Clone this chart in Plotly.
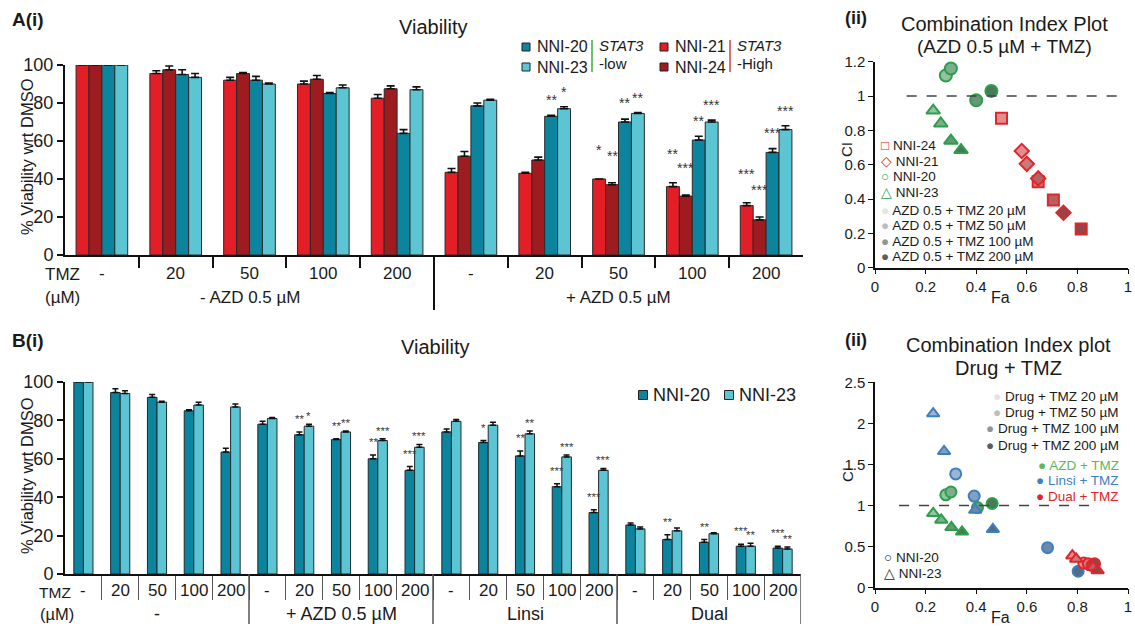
import plotly.graph_objects as go

W, H = 1135, 632
FONT = "Liberation Sans, Arial, sans-serif"
TXT = "#1a1a1a"

# ---------------- data: A(i) viability ----------------
A_tmz = ["-", "20", "50", "100", "200", "-", "20", "50", "100", "200"]
A_azd = ["- AZD 0.5 µM", "+ AZD 0.5 µM"]
A_nni21 = [100, 95.5, 92, 90, 82.5, 43.5, 43, 40, 36, 26]
A_nni24 = [100, 97.5, 95.5, 92.5, 87.5, 52, 50, 37, 31, 18.5]
A_nni20 = [100, 95, 92, 85, 64, 78.5, 73, 70, 60.5, 54]
A_nni23 = [100, 93.5, 90, 88, 87, 81.5, 77, 74.5, 70, 66]
A_err21 = [0, 1.5, 1.5, 1.5, 2, 2, 0.5, 0, 2, 1.5]
A_err24 = [0, 2, 0.5, 2, 1.5, 2.5, 1.5, 1, 0.5, 1.5]
A_err20 = [0, 2.5, 2, 0.5, 2, 1.5, 0.5, 1.5, 2, 2]
A_err23 = [0, 2, 0.5, 1.5, 1.5, 0.5, 1, 0.5, 1, 2]
A_sig21 = ["", "", "", "", "", "", "", "*", "**", "***"]
A_sig24 = ["", "", "", "", "", "", "", "**", "***", "***"]
A_sig20 = ["", "", "", "", "", "", "**", "**", "**", "***"]
A_sig23 = ["", "", "", "", "", "", "*", "**", "***", "***"]

# ---------------- data: B(i) viability ----------------
B_tmz = ["-", "20", "50", "100", "200", "-", "20", "50", "100", "200",
         "-", "20", "50", "100", "200", "-", "20", "50", "100", "200"]
B_drug = ["-", "+ AZD 0.5 µM", "Linsi", "Dual"]
B_nni20 = [100, 94.5, 92, 85, 63.5, 78, 72.5, 70, 60, 54,
           74, 68.5, 61.5, 45.5, 32, 25.5, 18, 16.5, 14.5, 13.5]
B_nni23 = [100, 94, 89.5, 88, 87, 81, 77, 74, 69.5, 66,
           79.5, 77.5, 73, 61, 54, 23.5, 22.5, 21, 14.5, 13]
B_err20 = [0, 2, 1.5, 0.5, 2, 1.5, 1.5, 0.5, 2, 2,
           1.5, 1, 2.5, 1.5, 1.5, 1, 2.5, 1.5, 1, 1]
B_err23 = [0, 1.5, 0.5, 1.5, 1.5, 0.5, 1, 0.5, 1, 1.5,
           1, 1.5, 1.5, 1, 1, 1, 1.5, 0.5, 1.5, 1]
B_sig20 = ["", "", "", "", "", "", "**", "**", "**", "***",
           "", "*", "**", "***", "***", "", "**", "**", "***", "***"]
B_sig23 = ["", "", "", "", "", "", "*", "**", "***", "***",
           "", "", "**", "***", "***", "", "", "", "**", "**"]

# ---------------- data: A(ii) CI plot ----------------
CA_fa20 = [0.28, 0.30, 0.40, 0.46]
CA_ci20 = [1.12, 1.16, 0.975, 1.03]
CA_fa23 = [0.23, 0.26, 0.30, 0.34]
CA_ci23 = [0.915, 0.84, 0.74, 0.685]
CA_fa24 = [0.50, 0.645, 0.705, 0.815]
CA_ci24 = [0.87, 0.50, 0.395, 0.225]
CA_fa21 = [0.58, 0.60, 0.645, 0.745]
CA_ci21 = [0.68, 0.605, 0.52, 0.32]

# ---------------- data: B(ii) CI plot ----------------
CB_azd_fa20 = [0.28, 0.30, 0.405, 0.463]
CB_azd_ci20 = [1.13, 1.165, 0.975, 1.025]
CB_azd_fa23 = [0.23, 0.262, 0.302, 0.344]
CB_azd_ci23 = [0.905, 0.825, 0.735, 0.68]
CB_lin_fa20 = [0.319, 0.392, 0.682, 0.803]
CB_lin_ci20 = [1.385, 1.115, 0.487, 0.2]
CB_lin_fa23 = [0.23, 0.273, 0.396, 0.466]
CB_lin_ci23 = [2.12, 1.66, 0.945, 0.71]
CB_dual_fa20 = [0.825, 0.843, 0.858, 0.868]
CB_dual_ci20 = [0.30, 0.29, 0.27, 0.29]
CB_dual_fa23 = [0.78, 0.795, 0.862, 0.88]
CB_dual_ci23 = [0.39, 0.35, 0.25, 0.21]

TMZ_levels = ["20", "50", "100", "200"]

# ---------------- styles ----------------
C21, C24, C20, C23 = "#e31e26", "#9e1b1f", "#0d849e", "#5bc5d3"
GREEN, BLUE, RED = "#2e9e4e", "#3d7fc1", "#e0262b"
GRAYS = ["#e4e4e4", "#bdbdbd", "#939393", "#5c5c5c"]


def mix(c1, c2, t):
    a = [int(c1[i:i + 2], 16) for i in (1, 3, 5)]
    b = [int(c2[i:i + 2], 16) for i in (1, 3, 5)]
    return "#" + "".join(f"{round(a[i] * (1 - t) + b[i] * t):02x}" for i in range(3))


def fx(p):
    return p / W


def fy(p):
    return 1 - p / H


fig = go.Figure()
ann = []
shapes = []


def note(x, y, text, size=16, xref="paper", yref="paper", xanchor="center",
         yanchor="middle", angle=0, color=TXT, family=FONT):
    ann.append(dict(x=x, y=y, xref=xref, yref=yref, text=text, showarrow=False,
                    xanchor=xanchor, yanchor=yanchor, textangle=angle,
                    font=dict(size=size, color=color, family=family)))


# ================= A(i) bars =================
A_bw = 0.175
A_series = [(A_nni21, A_err21, A_sig21, C21, 10),
            (A_nni24, A_err24, A_sig24, C24, 9),
            (A_nni20, A_err20, A_sig20, C20, 3),
            (A_nni23, A_err23, A_sig23, C23, 2.5)]
for i, (vals, errs, sigs, col, pad) in enumerate(A_series):
    off = -2 * A_bw + i * A_bw
    xs = list(range(len(vals)))
    fig.add_trace(go.Bar(
        x=xs, y=vals, width=A_bw, offset=off, xaxis="x", yaxis="y",
        marker=dict(color=col, line=dict(color="#2a2a2a", width=1)),
        error_y=dict(type="data", array=errs, arrayminus=[0] * len(errs),
                     symmetric=False, color="#111", thickness=1.6, width=4),
        cliponaxis=False, showlegend=False))
    for k, s in enumerate(sigs):
        if s:
            note(k + off + A_bw / 2, vals[k] + errs[k] + pad, s, size=14,
                 xref="x", yref="y", yanchor="bottom", color="#333")

for k, lab in enumerate(A_tmz):
    note(k, fy(273), lab, size=17, xref="x")
note(2, fy(297), A_azd[0], size=17, xref="x")
note(7, fy(297), A_azd[1], size=17, xref="x")
note(fx(62), fy(274), "TMZ", size=17)
note(fx(62), fy(297), "(µM)", size=17)
shapes.append(dict(type="line", xref="x", yref="paper", x0=4.5, x1=4.5,
                   y0=fy(255), y1=fy(310), line=dict(color="#111", width=2)))
note(fx(27), fy(157), "% Viability wrt DMSO", size=16.5, angle=-90)
note(fx(433), fy(27), "Viability", size=20)
note(fx(10), fy(19), "<b>A(i)</b>", size=19, xanchor="left")

# A legend
for yy, col, lab in [(47, C20, "NNI-20"), (67, C23, "NNI-23")]:
    shapes.append(dict(type="rect", xref="paper", yref="paper",
                       x0=fx(522), x1=fx(530), y0=fy(yy - 4), y1=fy(yy + 4),
                       fillcolor=col, line=dict(color="#222", width=1)))
    note(fx(535), fy(yy), lab, size=16, xanchor="left")
for yy, col, lab in [(47, C21, "NNI-21"), (67, C24, "NNI-24")]:
    shapes.append(dict(type="rect", xref="paper", yref="paper",
                       x0=fx(660), x1=fx(668), y0=fy(yy - 4), y1=fy(yy + 4),
                       fillcolor=col, line=dict(color="#222", width=1)))
    note(fx(673), fy(yy), lab, size=16, xanchor="left")
shapes.append(dict(type="line", xref="paper", yref="paper", x0=fx(592), x1=fx(592),
                   y0=fy(40), y1=fy(72), line=dict(color="#6cc36c", width=2)))
shapes.append(dict(type="line", xref="paper", yref="paper", x0=fx(730), x1=fx(730),
                   y0=fy(40), y1=fy(72), line=dict(color="#e07070", width=2)))
note(fx(597), fy(46), "<i>STAT3</i>", size=15, xanchor="left")
note(fx(597), fy(64), "-low", size=15, xanchor="left")
note(fx(735), fy(46), "<i>STAT3</i>", size=15, xanchor="left")
note(fx(735), fy(64), "-High", size=15, xanchor="left")

# ================= B(i) bars =================
B_bw = 0.26
B_series = [(B_nni20, B_err20, B_sig20, C20, 2.5), (B_nni23, B_err23, B_sig23, C23, 0)]
for i, (vals, errs, sigs, col, pad) in enumerate(B_series):
    off = -B_bw + i * B_bw
    xs = list(range(len(vals)))
    fig.add_trace(go.Bar(
        x=xs, y=vals, width=B_bw, offset=off, xaxis="x3", yaxis="y3",
        marker=dict(color=col, line=dict(color="#1e2a2e", width=1)),
        error_y=dict(type="data", array=errs, arrayminus=[0] * len(errs),
                     symmetric=False, color="#111", thickness=1.5, width=3),
        cliponaxis=False, showlegend=False))
    for k, s in enumerate(sigs):
        if s:
            note(k + off + B_bw / 2, vals[k] + errs[k] + pad, s, size=11.5,
                 xref="x3", yref="y3", yanchor="bottom", color="#3a3a3a")

for k, lab in enumerate(B_tmz):
    note(k, fy(590), lab, size=17, xref="x3")
for g, lab in enumerate(B_drug):
    note(g * 5 + 2, fy(614), lab, size=18, xref="x3")
note(fx(55), fy(592), "TMZ", size=15.5)
note(fx(57), fy(614), "(µM)", size=16.5)
for xv in [4.5, 9.5, 14.5, 19.5]:
    shapes.append(dict(type="line", xref="x3", yref="paper", x0=xv, x1=xv,
                       y0=fy(574), y1=fy(624), line=dict(color="#555", width=1.5)))
note(fx(27), fy(476), "% Viability wrt DMSO", size=16.5, angle=-90)
note(fx(435), fy(347), "Viability", size=20)
note(fx(10), fy(340), "<b>B(i)</b>", size=19, xanchor="left")
for xx, col, lab in [(643, C20, "NNI-20"), (729, C23, "NNI-23")]:
    shapes.append(dict(type="rect", xref="paper", yref="paper",
                       x0=fx(xx - 4.5), x1=fx(xx + 4.5), y0=fy(390.5), y1=fy(399.5),
                       fillcolor=col, line=dict(color="#222", width=1)))
    note(fx(xx + 8), fy(395), lab, size=18, xanchor="left")


# ================= A(ii) CI scatter =================
def ci_trace(fa, ci, col, sym, size, xa, ya, t=0.45):
    fills = [mix(g, col, t) for g in GRAYS]
    return go.Scatter(x=fa, y=ci, mode="markers", xaxis=xa, yaxis=ya,
                      marker=dict(symbol=sym, size=size, color=fills,
                                  line=dict(color=col, width=2)),
                      cliponaxis=False, showlegend=False)


shapes.append(dict(type="line", xref="x2", yref="y2", x0=0.125, x1=0.98, y0=1, y1=1,
                   line=dict(color="#444", width=1.5, dash="10px,10px")))
fig.add_trace(ci_trace(CA_fa20, CA_ci20, GREEN, "circle", 12, "x2", "y2"))
fig.add_trace(ci_trace(CA_fa23, CA_ci23, GREEN, "triangle-up", 12, "x2", "y2"))
fig.add_trace(ci_trace(CA_fa24, CA_ci24, RED, "square", 11, "x2", "y2"))
fig.add_trace(ci_trace(CA_fa21, CA_ci21, RED, "diamond", 11, "x2", "y2"))

note(fx(1004), fy(24), "Combination Index Plot", size=20)
note(fx(1004), fy(47), "(AZD 0.5 µM + TMZ)", size=19)
note(fx(843), fy(18), "<b>(ii)</b>", size=18, xanchor="left")
note(fx(847), fy(150), "CI", size=15, angle=-90)
note(fx(1001), fy(297), "Fa", size=16)
leg_a = [(f"<span style='color:{RED}'>□</span> NNI-24", 145.7),
         (f"<span style='color:{RED}'>◇</span> NNI-21", 161),
         (f"<span style='color:{GREEN}'>○</span> NNI-20", 176.7),
         (f"<span style='color:{GREEN}'>△</span> NNI-23", 192.3)]
for j, lvl in enumerate(TMZ_levels):
    leg_a.append((f"<span style='color:{GRAYS[j]}'>●</span> AZD 0.5 + TMZ {lvl} µM",
                  210 + j * 15.6))
for text, yy in leg_a:
    note(fx(879), fy(yy), text, size=13.5, xanchor="left")

# ================= B(ii) CI scatter =================
shapes.append(dict(type="line", xref="x4", yref="y4", x0=0.095, x1=0.87, y0=1, y1=1,
                   line=dict(color="#444", width=1.5, dash="10px,10px")))
fig.add_trace(ci_trace(CB_azd_fa20, CB_azd_ci20, GREEN, "circle", 11, "x4", "y4"))
fig.add_trace(ci_trace(CB_azd_fa23, CB_azd_ci23, GREEN, "triangle-up", 11, "x4", "y4"))
fig.add_trace(ci_trace(CB_lin_fa20, CB_lin_ci20, BLUE, "circle", 11, "x4", "y4"))
fig.add_trace(ci_trace(CB_lin_fa23, CB_lin_ci23, BLUE, "triangle-up", 11, "x4", "y4"))
fig.add_trace(ci_trace(CB_dual_fa20, CB_dual_ci20, RED, "circle", 11, "x4", "y4"))
fig.add_trace(ci_trace(CB_dual_fa23, CB_dual_ci23, RED, "triangle-up", 11, "x4", "y4"))

note(fx(1008), fy(345), "Combination Index plot", size=20)
note(fx(1008), fy(368), "Drug + TMZ", size=20)
note(fx(843), fy(340), "<b>(ii)</b>", size=18, xanchor="left")
note(fx(847), fy(475), "CI", size=15, angle=-90)
note(fx(1001), fy(617), "Fa", size=16)
for j, lvl in enumerate(TMZ_levels):
    note(fx(1121), fy(396.7 + j * 16.1),
         f"<span style='color:{GRAYS[j]}'>●</span> Drug + TMZ {lvl} µM",
         size=13.5, xanchor="right")
for j, (lab, col) in enumerate([("AZD + TMZ", "#5cb85c"), ("Linsi + TMZ", BLUE),
                                ("Dual + TMZ", RED)]):
    note(fx(1121), fy(465 + j * 15.8), f"● {lab}", size=13.5, xanchor="right", color=col)
note(fx(882), fy(557), "○ NNI-20", size=13.5, xanchor="left")
note(fx(882), fy(573), "△ NNI-23", size=13.5, xanchor="left")

# ================= layout =================
axis_common = dict(showline=True, linecolor="#111", showgrid=False, zeroline=False,
                   ticks="outside", tickcolor="#111", fixedrange=True, automargin=False,
                   ticklabeloverflow="allow")

fig.update_layout(
    template="none",
    width=W, height=H, autosize=False,
    margin=dict(l=0, r=0, t=0, b=0, pad=0),
    paper_bgcolor="white", plot_bgcolor="white",
    font=dict(family=FONT, color=TXT),
    barmode="overlay", showlegend=False,
    xaxis=dict(axis_common, domain=[fx(65), fx(803)], range=[-0.5, 9.5], anchor="y",
               linewidth=2, tickvals=[k + 0.5 for k in range(9)], ticklen=11,
               tickwidth=1.5, showticklabels=False),
    yaxis=dict(axis_common, domain=[fy(255), fy(65)], range=[0, 100], anchor="x",
               linewidth=2, tickvals=[0, 20, 40, 60, 80, 100], ticklen=6, tickwidth=2,
               tickfont=dict(size=18)),
    xaxis2=dict(axis_common, domain=[fx(875), fx(1128)], range=[0, 1], anchor="y2",
                linewidth=1.5, tickvals=[0, 0.2, 0.4, 0.6, 0.8, 1], ticklen=5,
                tickfont=dict(size=15)),
    yaxis2=dict(axis_common, domain=[fy(267.7), fy(61.7)], range=[0, 1.2], anchor="x2",
                linewidth=1.5, tickvals=[0, 0.2, 0.4, 0.6, 0.8, 1, 1.2], ticklen=5,
                tickfont=dict(size=15)),
    xaxis3=dict(axis_common, domain=[fx(65), fx(801)], range=[-0.5, 19.5], anchor="y3",
                linewidth=2, tickvals=[k + 0.5 for k in range(19)], ticklen=24,
                tickwidth=1, tickcolor="#555", showticklabels=False),
    yaxis3=dict(axis_common, domain=[fy(574), fy(382)], range=[0, 100], anchor="x3",
                linewidth=2, tickvals=[0, 20, 40, 60, 80, 100], ticklen=6, tickwidth=2,
                tickfont=dict(size=18)),
    xaxis4=dict(axis_common, domain=[fx(875), fx(1128)], range=[0, 1], anchor="y4",
                linewidth=1.5, tickvals=[0, 0.2, 0.4, 0.6, 0.8, 1], ticklen=5,
                tickfont=dict(size=15)),
    yaxis4=dict(axis_common, domain=[fy(587.7), fy(382.3)], range=[0, 2.5], anchor="x4",
                linewidth=1.5, tickvals=[0, 0.5, 1, 1.5, 2, 2.5], ticklen=5,
                tickfont=dict(size=15)),
    annotations=ann, shapes=shapes,
)

fig.write_html(
    "out.html",
    config={"displayModeBar": False},
    post_script="document.body.style.margin='0';document.body.style.padding='0';"
                "document.body.style.overflow='hidden';",
)
